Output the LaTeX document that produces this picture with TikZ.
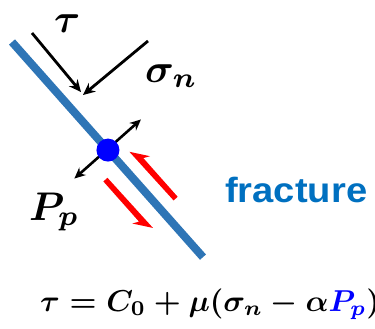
\documentclass[tikz,border=0pt]{standalone}
\usepackage{amsmath}
\usepackage{fontspec}
\newfontfamily\arialfont{Liberation Sans}
\usetikzlibrary{arrows.meta}
\definecolor{fracblue}{RGB}{46,117,182}
\definecolor{labelblue}{RGB}{0,112,192}
\definecolor{dotblue}{RGB}{0,0,255}
\definecolor{arrred}{RGB}{255,0,0}
\newcommand{\biglbl}[1]{\scalebox{4}{\boldmath$#1$}}
\newcommand{\eqtxt}[1]{\scalebox{3.02}{\boldmath$#1$}}
\tikzset{
  fracline/.style={draw=fracblue, line width=8pt, line cap=butt},
  blackarrow/.style={draw=black, line width=2.8pt, -{Stealth[length=12pt,width=11pt]}},
  dblarrow/.style={draw=black, line width=2.6pt, {Stealth[length=11pt,width=10pt]}-{Stealth[length=11pt,width=10pt]}},
  redarrow/.style={fill=arrred, draw=none},
  lbl/.style={inner sep=0pt, anchor=base west},
  fraclbl/.style={inner sep=0pt, anchor=base west, text=labelblue, font=\arialfont\bfseries\fontsize{35}{42}\selectfont},
  pdot/.style={circle, fill=dotblue, minimum size=23pt, inner sep=0pt}
}
\begin{document}
\begin{tikzpicture}[x=1pt,y=-1pt]
\useasboundingbox (0,0) rectangle (375,329);
% black load arrows
\coordinate (t0) at (32,33);
\coordinate (t1) at (81,92);
\coordinate (s0) at (148,41);
\coordinate (s1) at (83,95);
\begin{scope}[shift={(12,42)}, x={(0.664pt,-0.748pt)}, y={(0.748pt,0.664pt)}]
  \coordinate (A) at (0,0);
  \coordinate (B) at (287.6,0);
  \draw[fracline] (A) -- (B);
  % red shear arrows
  \fill[redarrow] (160,14.9) -- (177,27.4) -- (174,21.15) -- (225.7,21.15) -- (225.7,15.65) -- cycle;
  \fill[redarrow] (232.6,-18) -- (215.6,-30.5) -- (218.6,-24.25) -- (164.9,-24.25) -- (164.9,-18.75) -- cycle;
  % pore pressure arrow
  \coordinate (pl) at (143.5,-44);
  \coordinate (pu) at (143.5,45);
  \draw[dblarrow] (pl) -- (pu);
  \node[pdot] (dot) at (144.5,0) {};
\end{scope}
\draw[blackarrow] (t0) -- (t1);
\draw[blackarrow] (s0) -- (s1);
% labels
\node[lbl] (tau) at (54,33) {\biglbl{\tau}};
\node[lbl] (sig) at (145,82) {\biglbl{\sigma_n}};
\node[lbl] (pp) at (29,220) {\biglbl{P_p}};
\node[fraclbl] (frac) at (225,202) {\scalebox{1.09}[1]{fracture}};
\node[lbl] (eq) at (40,311) {\eqtxt{\tau = C_0 + \mu(\sigma_n - \alpha{\color{dotblue}P_p})}};
\end{tikzpicture}
\end{document}
